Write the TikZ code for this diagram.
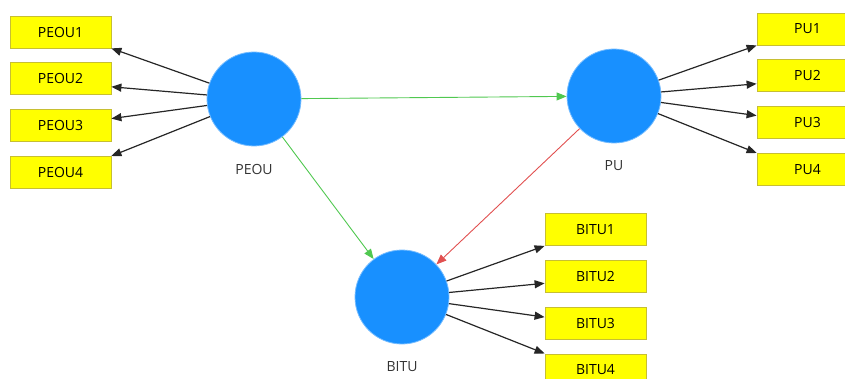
\documentclass[tikz,border=0pt]{standalone}
\usepackage{fontspec}
\setmainfont{Open Sans}
\usetikzlibrary{positioning,arrows.meta,calc}
\definecolor{lvblue}{RGB}{24,144,255}
\definecolor{indyellow}{RGB}{255,255,0}
\definecolor{pathgreen}{RGB}{80,200,80}
\definecolor{pathred}{RGB}{225,80,80}

\begin{document}
\begin{tikzpicture}[
  x=1pt,y=-1pt,
  font=\fontsize{14}{16}\selectfont,
  node distance=14pt,
  latent/.style={circle,fill=lvblue,draw=lvblue!60!white,line width=0.8pt,minimum size=94pt,inner sep=0pt,
                 label={[text=black!80,label distance=14pt]below:#1}},
  ind/.style={rectangle,fill=indyellow,draw=yellow!75!black,line width=0.8pt,
              minimum width=101pt,minimum height=32pt,inner sep=0pt},
  load/.style={-{Triangle[length=10pt,width=8pt]},line width=1.2pt,black!85},
  struct/.style={-{Triangle[length=10pt,width=8pt]},line width=0.9pt,#1},
]
\useasboundingbox (0,0) rectangle (845,379);

% latent variables
\node[latent=PEOU] (peou) at (254,99) {};
\node[latent=PU]   (pu)   at (614,96) {};
\node[latent=BITU] (bitu) at (402,297) {};

% indicators of PEOU (left stack)
\node[ind] (peou1) at (60.5,32) {PEOU1};
\node[ind,below=of peou1] (peou2) {PEOU2};
\node[ind,below=of peou2] (peou3) {PEOU3};
\node[ind,below=of peou3] (peou4) {PEOU4};

% indicators of PU (right stack)
\node[ind] (pu1) at (807.5,29) {PU1};
\node[ind,below=of pu1] (pu2) {PU2};
\node[ind,below=of pu2] (pu3) {PU3};
\node[ind,below=of pu3] (pu4) {PU4};

% indicators of BITU
\node[ind] (bitu1) at (595.5,229.5) {BITU1};
\node[ind,below=of bitu1] (bitu2) {BITU2};
\node[ind,below=of bitu2] (bitu3) {BITU3};
\node[ind,below=of bitu3] (bitu4) {BITU4};

% loadings
\draw[load] (peou) -- (peou1.south east);
\draw[load] (peou) -- ($(peou2.east)+(0,8)$);
\draw[load] (peou) -- ($(peou3.east)+(0,-7)$);
\draw[load] (peou) -- (peou4.north east);

\draw[load] (pu) -- (pu1.south west);
\draw[load] (pu) -- ($(pu2.west)+(0,8)$);
\draw[load] (pu) -- ($(pu3.west)+(0,-7)$);
\draw[load] (pu) -- (pu4.north west);

\draw[load] (bitu) -- (bitu1.south west);
\draw[load] (bitu) -- ($(bitu2.west)+(0,7)$);
\draw[load] (bitu) -- ($(bitu3.west)+(0,-6)$);
\draw[load] (bitu) -- (bitu4.north west);

% structural paths
\draw[struct=pathgreen] (peou) -- (pu);
\draw[struct=pathgreen] (peou) -- (bitu);
\draw[struct=pathred] (pu) -- (bitu);
\end{tikzpicture}
\end{document}
